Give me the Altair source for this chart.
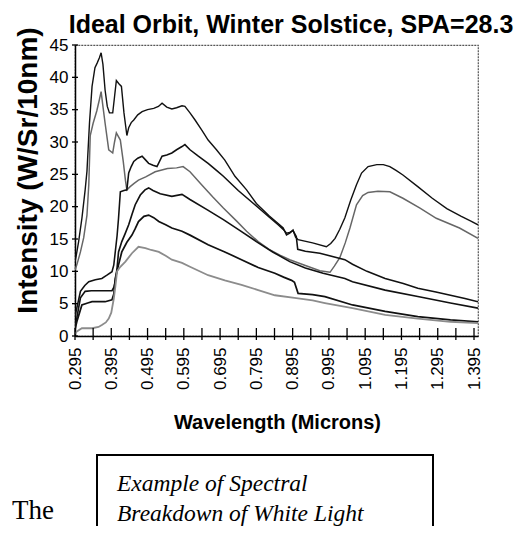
import altair as alt
import pandas as pd

# ---- values (wavelength in microns, intensity in W/Sr/10nm) ----
wl_1 = [0.295, 0.298, 0.305, 0.314, 0.323, 0.328, 0.335, 0.342, 0.350, 0.356, 0.362, 0.367, 0.372, 0.378,
        0.384, 0.390, 0.399, 0.404, 0.409, 0.416, 0.423, 0.430, 0.438, 0.443, 0.450, 0.457, 0.468, 0.480,
        0.495, 0.512, 0.525, 0.535, 0.548, 0.562, 0.575, 0.590, 0.598, 0.612, 0.626, 0.645, 0.662, 0.685,
        0.708, 0.736, 0.768, 0.795, 0.830, 0.855, 0.869, 0.878, 0.887, 0.896, 0.903, 0.910, 0.950, 0.988,
        1.000, 1.012, 1.025, 1.039, 1.055, 1.071, 1.085, 1.103, 1.127, 1.145, 1.163, 1.180, 1.199, 1.240,
        1.280, 1.320, 1.360, 1.385, 1.406]
int_1 = [11.5, 12.3, 14.6, 18.2, 22.6, 25.5, 33.0, 38.6, 41.5, 42.2, 43.0, 43.8, 42.0, 38.0,
         35.5, 34.5, 34.5, 37.0, 39.5, 39.0, 38.6, 34.5, 31.0, 32.2, 33.0, 33.4, 34.2, 34.7,
         35.0, 35.2, 35.5, 36.0, 35.4, 35.1, 35.3, 35.6, 35.5, 34.5, 33.4, 31.8, 30.3, 28.8,
         27.2, 24.7, 22.6, 20.5, 18.6, 17.4, 16.7, 15.6, 15.9, 16.4, 15.3, 14.9, 14.4, 13.8,
         14.3, 15.1, 16.5, 18.3, 21.0, 23.4, 25.2, 26.2, 26.5, 26.5, 26.2, 25.6, 24.9, 23.1,
         21.3, 19.7, 18.5, 17.8, 17.2]

wl_2 = [0.295, 0.300, 0.310, 0.319, 0.328, 0.333, 0.337, 0.345, 0.355, 0.362, 0.367, 0.372, 0.378, 0.388,
        0.399, 0.404, 0.409, 0.420, 0.428, 0.434, 0.438, 0.447, 0.458, 0.470, 0.490, 0.516, 0.550, 0.575,
        0.593, 0.612, 0.644, 0.675, 0.704, 0.740, 0.768, 0.800, 0.830, 0.860, 0.887, 0.930, 0.970, 0.998,
        1.010, 1.025, 1.040, 1.053, 1.071, 1.088, 1.103, 1.130, 1.163, 1.199, 1.245, 1.291, 1.355, 1.406]
int_2 = [10.2, 11.0, 13.0, 15.2, 18.7, 23.4, 31.0, 32.9, 34.8, 36.5, 37.8, 35.5, 32.9, 28.8,
         28.3, 30.0, 31.4, 30.3, 27.0, 24.1, 22.6, 23.1, 23.6, 24.1, 24.6, 25.4, 25.9, 26.0,
         26.2, 25.4, 23.4, 21.5, 19.8, 17.8, 16.2, 14.6, 13.4, 12.5, 11.8, 10.9, 10.1, 9.85,
         10.8, 12.1, 14.4, 16.7, 20.3, 21.7, 22.2, 22.4, 22.3, 21.3, 19.8, 18.2, 16.7, 15.1]

wl_3 = [0.295, 0.298, 0.310, 0.322, 0.333, 0.351, 0.369, 0.383, 0.397, 0.402, 0.406, 0.411, 0.415, 0.420,
        0.430, 0.438, 0.443, 0.450, 0.457, 0.468, 0.480, 0.490, 0.498, 0.510, 0.521, 0.535, 0.548, 0.562,
        0.575, 0.590, 0.598, 0.612, 0.635, 0.662, 0.685, 0.704, 0.745, 0.795, 0.830, 0.855, 0.869, 0.878,
        0.887, 0.896, 0.905, 0.909, 0.930, 0.970, 1.039, 1.060, 1.100, 1.150, 1.200, 1.240, 1.290, 1.330,
        1.370, 1.406]
int_3 = [3.0, 3.8, 6.9, 7.8, 8.4, 8.7, 8.9, 9.4, 9.95, 11.0, 13.0, 15.5, 18.2, 22.3,
         22.5, 22.6, 25.2, 26.2, 27.0, 27.5, 27.8, 27.2, 26.7, 26.4, 26.2, 27.8, 28.0, 28.3,
         28.8, 29.3, 29.6, 28.8, 27.8, 26.7, 25.6, 24.7, 22.5, 20.1, 18.4, 17.2, 16.5, 15.9,
         16.0, 16.3, 15.4, 13.4, 13.1, 12.8, 11.8, 11.1, 10.0, 8.9, 8.1, 7.4, 6.8, 6.3,
         5.8, 5.3]

wl_4 = [0.295, 0.300, 0.310, 0.323, 0.340, 0.360, 0.380, 0.397, 0.402, 0.406, 0.411, 0.415, 0.424, 0.433,
        0.443, 0.452, 0.461, 0.475, 0.488, 0.498, 0.510, 0.530, 0.562, 0.590, 0.612, 0.660, 0.704, 0.750,
        0.795, 0.840, 0.887, 0.930, 0.979, 1.039, 1.060, 1.150, 1.240, 1.330, 1.406]
int_4 = [1.5, 2.8, 5.9, 6.9, 7.0, 7.0, 7.0, 7.0, 7.5, 8.4, 10.5, 13.0, 14.6, 15.8,
         17.2, 18.8, 20.3, 21.8, 22.6, 22.9, 22.5, 22.0, 21.6, 21.9, 21.1, 19.5, 18.0, 16.3,
         14.6, 13.0, 11.5, 10.5, 9.7, 8.9, 8.4, 7.1, 6.1, 5.1, 4.3]

wl_5 = [0.295, 0.300, 0.314, 0.330, 0.342, 0.360, 0.378, 0.397, 0.402, 0.406, 0.415, 0.424, 0.438, 0.452,
        0.461, 0.470, 0.485, 0.498, 0.512, 0.526, 0.545, 0.562, 0.590, 0.612, 0.662, 0.708, 0.754, 0.800,
        0.846, 0.870, 0.892, 0.900, 0.910, 0.950, 0.984, 1.060, 1.150, 1.240, 1.330, 1.406]
int_5 = [1.0, 2.2, 4.8, 5.1, 5.3, 5.3, 5.3, 5.6, 6.5, 8.9, 11.0, 13.0, 14.5, 15.6,
         16.6, 17.7, 18.5, 18.7, 18.3, 17.7, 17.2, 16.7, 16.2, 15.6, 14.1, 13.0, 11.8, 10.6,
         9.7, 9.1, 8.6, 8.3, 6.6, 6.4, 6.1, 4.8, 3.8, 3.0, 2.5, 2.2]

wl_6 = [0.295, 0.300, 0.314, 0.342, 0.360, 0.369, 0.380, 0.388, 0.395, 0.402, 0.406, 0.411, 0.420, 0.434,
        0.452, 0.470, 0.489, 0.505, 0.526, 0.545, 0.562, 0.590, 0.612, 0.662, 0.708, 0.754, 0.800, 0.846,
        0.900, 0.950, 0.984, 1.060, 1.150, 1.240, 1.330, 1.406]
int_6 = [0.3, 0.7, 1.2, 1.2, 1.4, 1.7, 2.1, 2.7, 3.6, 5.8, 7.5, 10.0, 10.7, 11.5,
         12.8, 13.8, 13.6, 13.3, 13.0, 12.4, 11.8, 11.3, 10.7, 9.4, 8.6, 7.9, 7.1, 6.3,
         5.9, 5.5, 5.1, 4.3, 3.25, 2.7, 2.2, 2.0]

x_tick_values = [0.295, 0.345, 0.395, 0.445, 0.495, 0.545, 0.595, 0.645, 0.695, 0.745, 0.795, 0.845,
                 0.895, 0.945, 0.995, 1.045, 1.095, 1.145, 1.195, 1.245, 1.295, 1.345, 1.395]
x_label_values = [0.295, 0.395, 0.495, 0.595, 0.695, 0.795, 0.895, 0.995, 1.095, 1.195, 1.295, 1.395]
y_tick_values = [0, 5, 10, 15, 20, 25, 30, 35, 40, 45]

series_names = ["Curve 1", "Curve 2", "Curve 3", "Curve 4", "Curve 5", "Curve 6"]
series_colors = ["#111111", "#666666", "#111111", "#111111", "#111111", "#8c8c8c"]
series_widths = [1.4, 1.8, 1.7, 2.2, 1.6, 1.8]

series = [
    (series_names[0], wl_1, int_1), (series_names[1], wl_2, int_2), (series_names[2], wl_3, int_3),
    (series_names[3], wl_4, int_4), (series_names[4], wl_5, int_5), (series_names[5], wl_6, int_6),
]
rows = []
for name, w, v in series:
    assert len(w) == len(v), (name, len(w), len(v))
    rows += [{"series": name, "wavelength": a, "intensity": b} for a, b in zip(w, v)]
df = pd.DataFrame(rows)

W, H = 403, 291
FONT = "Liberation Sans"

xscale = alt.Scale(domain=[0.295, 1.406], nice=False, zero=False)
yscale = alt.Scale(domain=[0, 45], nice=False, zero=True)

x_axis = alt.Axis(values=x_label_values, format=".3f", labelAngle=270, labelAlign="right",
                  labelBaseline="middle", labelFontSize=17, labelFont=FONT, labelColor="black",
                  labelPadding=11, tickSize=0, domainColor="black", domainWidth=1.5, grid=False,
                  labelOverlap=False, labelFlush=False,
                  title="Wavelength (Microns)", titleFont=FONT, titleColor="black", titleFontSize=20,
                  titleFontWeight="bold", titleX=202, titleY=92, titleAlign="center",
                  titleBaseline="alphabetic")
y_axis = alt.Axis(values=y_tick_values, labelFontSize=17, labelFont=FONT, labelColor="black",
                  labelPadding=7, tickSize=0, domainColor="black", domainWidth=1.5, grid=False,
                  labelOverlap=False, labelFlush=False,
                  title="Intensity (W/Sr/10nm)", titleFont=FONT, titleColor="black", titleFontSize=28,
                  titleFontWeight="bold", titleAngle=270, titleX=-47, titleY=125,
                  titleAlign="center", titleBaseline="middle")

lines = alt.Chart(df).mark_line(clip=True).encode(
    x=alt.X("wavelength:Q", scale=xscale, axis=x_axis),
    y=alt.Y("intensity:Q", scale=yscale, axis=y_axis),
    color=alt.Color("series:N", scale=alt.Scale(domain=series_names, range=series_colors), legend=None),
    strokeWidth=alt.StrokeWidth("series:N", scale=alt.Scale(domain=series_names, range=series_widths),
                                legend=None),
    detail="series:N",
)

# tick marks that cross the axis lines, placed through the shared scales
xticks = alt.Chart(pd.DataFrame({"t": x_tick_values})).mark_rule(color="black", strokeWidth=1.3).encode(
    x=alt.X("t:Q", scale=xscale, axis=x_axis), y=alt.value(H - 8), y2=alt.value(H + 4))
yticks = alt.Chart(pd.DataFrame({"t": y_tick_values})).mark_rule(color="black", strokeWidth=1.3).encode(
    y=alt.Y("t:Q", scale=yscale, axis=y_axis), x=alt.value(-3), x2=alt.value(3))

one = pd.DataFrame({"k": [0]})
title_mark = alt.Chart(one).mark_text(align="center", baseline="alphabetic", font=FONT, fontSize=25,
                                      fontWeight="bold", color="black").encode(
    x=alt.value(216), y=alt.value(-12), text=alt.value("Ideal Orbit, Winter Solstice, SPA=28.3"))
box = alt.Chart(one).mark_rect(fillOpacity=0, stroke="black", strokeWidth=2).encode(
    x=alt.value(22), x2=alt.value(358), y=alt.value(410), y2=alt.value(530))
cap1 = alt.Chart(one).mark_text(align="left", baseline="alphabetic", font="Liberation Serif",
                                fontStyle="italic", fontSize=23.5, color="black").encode(
    x=alt.value(42), y=alt.value(445.5), text=alt.value("Example of Spectral"))
cap2 = alt.Chart(one).mark_text(align="left", baseline="alphabetic", font="Liberation Serif",
                                fontStyle="italic", fontSize=23.5, color="black").encode(
    x=alt.value(42), y=alt.value(475.5), text=alt.value("Breakdown of White Light"))
word = alt.Chart(one).mark_text(align="left", baseline="alphabetic", font="Liberation Serif",
                                fontSize=27, color="black").encode(
    x=alt.value(-63), y=alt.value(474), text=alt.value("The"))

chart = alt.layer(lines, xticks, yticks, title_mark, box, cap1, cap2, word).properties(
    width=W, height=H,
    padding={"left": 67, "top": 37, "right": 46, "bottom": 190},
    autosize=alt.AutoSizeParams(type="none"),
).configure_view(
    stroke="#555555", strokeDash=[2, 1], strokeWidth=1.2
)

chart.save("out.html", embed_options={"renderer": "svg", "actions": False})
